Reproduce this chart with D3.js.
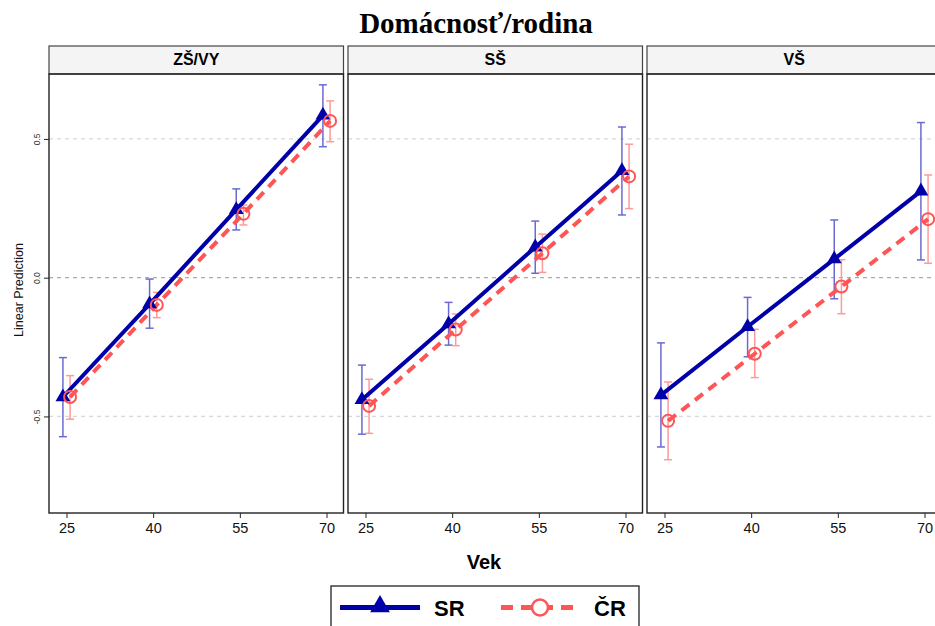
<!DOCTYPE html>
<html><head><meta charset="utf-8">
<script src="https://cdn.jsdelivr.net/npm/d3@7"></script>
<style>body{margin:0;background:#fff}svg{display:block}</style>
</head><body>
<svg id="c" width="935" height="626"></svg>
<script>
const panels = ["ZŠ/VY", "SŠ", "VŠ"];
const ages = [25, 40, 55, 70];
const yTicks = [-0.5, 0.0, 0.5];
const yTickLabels = ["-0.5", "0.0", "0.5"];
const seriesNames = ["SR", "ČR"];
// SR estimates and CIs per panel
const srValues = [[-0.43, -0.095, 0.245, 0.585], [-0.44, -0.167, 0.11, 0.385], [-0.423, -0.177, 0.067, 0.312]];
const srLow = [[-0.573, -0.182, 0.172, 0.472], [-0.564, -0.243, 0.016, 0.226], [-0.61, -0.285, -0.076, 0.064]];
const srHigh = [[-0.288, -0.005, 0.32, 0.695], [-0.315, -0.089, 0.204, 0.543], [-0.235, -0.071, 0.208, 0.559]];
// ČR estimates and CIs per panel
const crValues = [[-0.43, -0.098, 0.23, 0.565], [-0.462, -0.187, 0.088, 0.365], [-0.516, -0.274, -0.032, 0.211]];
const crLow = [[-0.51, -0.144, 0.19, 0.49], [-0.561, -0.245, 0.019, 0.249], [-0.656, -0.36, -0.13, 0.052]];
const crHigh = [[-0.353, -0.053, 0.262, 0.637], [-0.366, -0.131, 0.157, 0.481], [-0.376, -0.186, 0.065, 0.37]];

const svg = d3.select("#c");
const panelLeft = [49, 348, 647], panelW = 294.5, plotTop = 74, plotBottom = 513;
const y = d3.scaleLinear().domain([-0.848, 0.734]).range([plotBottom, plotTop]);
const blue = "#0000a8", red = "#ff5555", blueCI = "#6a6ad2", redCI = "#ff9a9a";
const off = 0.62;

svg.append("text").attr("x", 476).attr("y", 33).attr("text-anchor", "middle")
  .attr("font-family", "'Liberation Serif','Times New Roman',serif").attr("font-weight", "bold")
  .attr("font-size", 29).text("Domácnosť/rodina");

const tri = d3.symbol().type(d3.symbolTriangle).size(95);

panels.forEach((name, p) => {
  const L = panelLeft[p], R = L + panelW;
  const x = d3.scaleLinear().domain([25, 70]).range([L + 17.5, R - 17]);
  const g = svg.append("g");
  // header
  g.append("rect").attr("x", L).attr("y", 46).attr("width", panelW).attr("height", 28)
    .attr("fill", "#f4f4f4").attr("stroke", "#444").attr("stroke-width", 1.2);
  g.append("text").attr("x", (L + R) / 2).attr("y", 65).attr("text-anchor", "middle")
    .attr("font-family", "'Liberation Sans Narrow','Arial Narrow','Liberation Sans',sans-serif")
    .attr("font-weight", "bold").attr("font-size", 16).text(name);
  // gridlines
  yTicks.forEach(t => {
    g.append("line").attr("x1", L).attr("x2", R).attr("y1", y(t)).attr("y2", y(t))
      .attr("stroke", t === 0 ? "#aaaaaa" : "#d8d8d8").attr("stroke-width", 1.2)
      .attr("stroke-dasharray", "4,4");
  });
  // frame
  g.append("rect").attr("x", L).attr("y", plotTop).attr("width", panelW).attr("height", plotBottom - plotTop)
    .attr("fill", "none").attr("stroke", "#222").attr("stroke-width", 1.4);
  // x axis
  const xa = g.append("g").attr("transform", `translate(0,${plotBottom})`)
    .call(d3.axisBottom(x).tickValues(ages).tickSize(5).tickPadding(5).tickFormat(d3.format("d")));
  xa.select(".domain").remove();
  xa.selectAll("line").attr("stroke", "#222");
  xa.selectAll("text").attr("font-family", "'Liberation Sans',Arial,sans-serif").attr("font-size", 14.5).attr("fill", "#111");
  if (p === 0) {
    const ya = g.append("g").attr("transform", `translate(${L},0)`)
      .call(d3.axisLeft(y).tickValues(yTicks).tickSize(5).tickPadding(3).tickFormat((d, i) => yTickLabels[i]));
    ya.select(".domain").remove();
    ya.selectAll("line").attr("stroke", "#222");
    ya.selectAll("text").attr("font-family", "'Liberation Sans',Arial,sans-serif").attr("font-size", 8.5)
      .attr("fill", "#333").attr("text-anchor", "middle")
      .attr("x", 0).attr("y", 0)
      .attr("transform", "translate(-12,0) rotate(-90)").attr("dy", "0.35em");
  }
  const series = [
    {v: srValues[p], lo: srLow[p], hi: srHigh[p], dx: -off, c: blue, ci: blueCI, dash: null},
    {v: crValues[p], lo: crLow[p], hi: crHigh[p], dx: off, c: red, ci: redCI, dash: "10,7"}
  ];
  // error bars
  series.forEach(s => {
    ages.forEach((a, i) => {
      const cx = x(a + s.dx);
      g.append("line").attr("x1", cx).attr("x2", cx).attr("y1", y(s.lo[i])).attr("y2", y(s.hi[i]))
        .attr("stroke", s.ci).attr("stroke-width", 1.5);
      [s.lo[i], s.hi[i]].forEach(v => g.append("line").attr("x1", cx - 4).attr("x2", cx + 4)
        .attr("y1", y(v)).attr("y2", y(v)).attr("stroke", s.ci).attr("stroke-width", 1.5));
    });
  });
  // lines and markers
  series.slice().reverse().forEach(s => {
    const line = d3.line().x((d, i) => x(ages[i] + s.dx)).y(d => y(d));
    g.append("path").datum(s.v).attr("d", line).attr("fill", "none").attr("stroke", s.c)
      .attr("stroke-width", 4).attr("stroke-dasharray", s.dash);
  });
  series.forEach((s, k) => {
    s.v.forEach((v, i) => {
      const cx = x(ages[i] + s.dx), cy = y(v);
      if (k === 0) g.append("path").attr("d", tri).attr("transform", `translate(${cx},${cy})`).attr("fill", s.c);
      else g.append("circle").attr("cx", cx).attr("cy", cy).attr("r", 6).attr("fill", "none")
        .attr("stroke", s.c).attr("stroke-width", 2);
    });
  });
});

svg.append("text").attr("transform", "translate(23,290) rotate(-90)").attr("text-anchor", "middle")
  .attr("font-family", "'Liberation Sans',Arial,sans-serif").attr("font-size", 12.5).attr("fill", "#111")
  .text("Linear Prediction");
svg.append("text").attr("x", 484).attr("y", 569).attr("text-anchor", "middle")
  .attr("font-family", "'Liberation Sans',Arial,sans-serif").attr("font-weight", "bold").attr("font-size", 20)
  .text("Vek");

// legend
const lg = svg.append("g");
lg.append("rect").attr("x", 331).attr("y", 586).attr("width", 308).attr("height", 50)
  .attr("fill", "#fff").attr("stroke", "#222").attr("stroke-width", 1.3);
const ly = 607.5;
lg.append("line").attr("x1", 340).attr("x2", 420).attr("y1", ly).attr("y2", ly).attr("stroke", blue).attr("stroke-width", 5);
lg.append("path").attr("d", d3.symbol().type(d3.symbolTriangle).size(170)).attr("transform", `translate(380,${ly - 1})`).attr("fill", blue);
lg.append("text").attr("x", 434).attr("y", ly + 8).attr("font-family", "'Liberation Sans',Arial,sans-serif")
  .attr("font-weight", "bold").attr("font-size", 22).text(seriesNames[0]);
lg.append("line").attr("x1", 501).attr("x2", 576).attr("y1", ly).attr("y2", ly).attr("stroke", red)
  .attr("stroke-width", 5).attr("stroke-dasharray", "12,8");
lg.append("circle").attr("cx", 540).attr("cy", ly).attr("r", 8).attr("fill", "#fff").attr("stroke", red).attr("stroke-width", 2.5);
lg.append("text").attr("x", 594).attr("y", ly + 8).attr("font-family", "'Liberation Sans',Arial,sans-serif")
  .attr("font-weight", "bold").attr("font-size", 22).text(seriesNames[1]);
</script>
</body></html>
